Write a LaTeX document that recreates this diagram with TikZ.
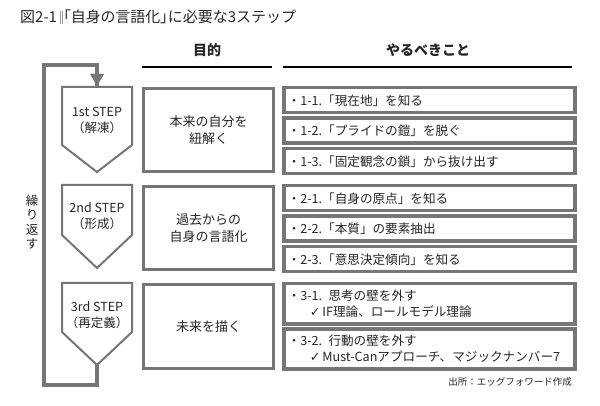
\documentclass[tikz,border=0pt]{standalone}
\usepackage{fontspec}
\setmainfont{Noto Sans CJK JP}
\newfontfamily\symf{DejaVu Sans}
\usetikzlibrary{arrows.meta}
\definecolor{fr}{HTML}{767676}
\definecolor{tx}{HTML}{262626}
\begin{document}
\begin{tikzpicture}[x=1pt,y=-1pt,
  rbox/.style={draw=fr, line width=3.5pt, fill=white, anchor=north west, minimum width=291pt,
     text width=283pt, inner xsep=4pt, align=left, font=\fontsize{12.6}{16}\selectfont, text=tx},
  mbox/.style={draw=fr, line width=3pt, fill=white, anchor=north west, minimum width=130pt,
     align=center, font=\fontsize{13}{16.5}\selectfont, text=tx},
  pent/.style={draw=fr, line width=2pt, fill=white, line join=miter},
  ptext/.style={align=center, font=\fontsize{12.5}{16}\selectfont, text=tx},
  loopline/.style={draw=fr, line width=4.5pt},
  head/.style={font=\bfseries\fontsize{14}{16}\selectfont, text=tx},
  hline/.style={draw=black, line width=1.6pt},
]
\useasboundingbox (0,0) rectangle (600,406);
\fill[white] (0,0) rectangle (600,406);

% title
\node[anchor=west, inner sep=0, font=\fontsize{15}{17}\selectfont, text=tx] (title) at (20,17)
  {図2-1\hspace{2.5pt}{\color{fr!70}\rule[-1.5pt]{0.6pt}{13pt}\hspace{1.6pt}\rule[-1.5pt]{0.6pt}{13pt}}\hspace{1pt}{\addfontfeatures{RawFeature=+palt}「自身の言語化」}に必要な3ステップ};

% headers
\node[head] (h1) at (207,50) {目的};
\node[head] (h2) at (428,50) {やるべきこと};
\coordinate (h1a) at (142,67); \coordinate (h1b) at (272,67);
\coordinate (h2a) at (283,67); \coordinate (h2b) at (572,67);
\draw[hline] (h1a) -- (h1b);
\draw[hline] (h2a) -- (h2b);

% loop coordinates
\coordinate (lt) at (44,65);
\coordinate (lb) at (44,385);
\coordinate (ltr) at (97,65);
\coordinate (lbr) at (97,385);

% pentagons
\coordinate (p1top) at (97,87);
\coordinate (p1bot) at (97,172);
\coordinate (p3bot) at (97,365);

\draw[loopline] (p3bot) -- (lbr) -- (lb) -- (lt) -- (ltr) -- ([yshift=-8]p1top);
\fill[fr] ([yshift=1]p1top) -- ++(-7,-12) -- ++(14,0) -- cycle;

\draw[pent] (62,87) -- (132,87) -- (132,145) -- (p1bot) -- (62,145) -- cycle;
\draw[pent] (62,185) -- (132,185) -- (132,235) -- (97,268) -- (62,235) -- cycle;
\draw[pent] (62,283) -- (132,283) -- (132,332) -- (p3bot) -- (62,332) -- cycle;

\node[ptext] (s1) at (97,120) {1st STEP\\（解凍）};
\node[ptext] (s2) at (97,216) {2nd STEP\\（形成）};
\node[ptext] (s3) at (97,315) {3rd STEP\\（再定義）};

\node[align=center, font=\fontsize{12.5}{14.5}\selectfont, text=tx] (rep) at (32,222) {繰\\り\\返\\す};

% middle boxes
\node[mbox, minimum height=83pt] (m1) at (142,87) {本来の自分を\\紐解く};
\node[mbox, minimum height=83pt] (m2) at (142,185) {過去からの\\自身の言語化};
\node[mbox, minimum height=84pt] (m3) at (142,283) {未来を描く};

% right boxes
\node[rbox, minimum height=25pt] (r11) at (282,86) {・1-1.「現在地」を知る};
\node[rbox, minimum height=25pt] (r12) at (282,116.5) {・1-2.「プライドの鎧」を脱ぐ};
\node[rbox, minimum height=25pt] (r13) at (282,147) {・1-3.「固定観念の鎖」から抜け出す};
\node[rbox, minimum height=25pt] (r21) at (282,184) {・2-1.「自身の原点」を知る};
\node[rbox, minimum height=25pt] (r22) at (282,214.5) {・2-2.「本質」の要素抽出};
\node[rbox, minimum height=25pt] (r23) at (282,245) {・2-3.「意思決定傾向」を知る};
\node[rbox, minimum height=40pt] (r31) at (282,282) {・3-1. 思考の壁を外す\\\hspace*{22pt}{\symf\bfseries ✓}\,IF理論、ロールモデル理論};
\node[rbox, minimum height=40pt] (r32) at (282,327) {・3-2. 行動の壁を外す\\\hspace*{22pt}{\symf\bfseries ✓}\,Must-Canアプローチ、マジックナンバー7};

\node[anchor=east, inner sep=0, font=\fontsize{9.5}{11}\selectfont, text=tx] (src) at (572,382) {出所：エッグフォワード作成};
\end{tikzpicture}
\end{document}
